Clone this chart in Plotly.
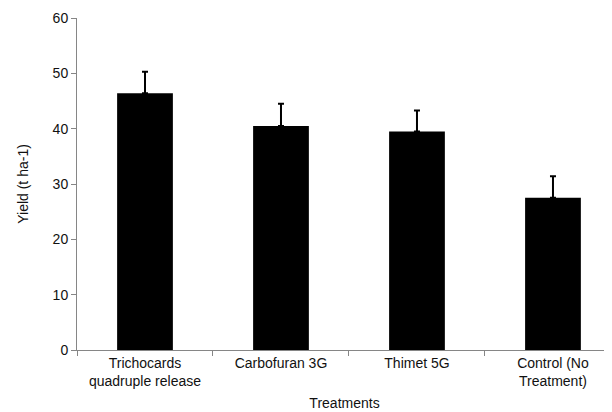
import plotly.graph_objects as go

categories = ["Trichocards<br>quadruple release", "Carbofuran 3G", "Thimet 5G", "Control (No<br>Treatment)"]
yield_values = [46.4, 40.5, 39.5, 27.5]
error_values = [3.9, 4.0, 3.8, 3.9]
y_ticks = [0, 10, 20, 30, 40, 50, 60]

fig = go.Figure()
fig.add_trace(go.Bar(
    x=categories,
    y=yield_values,
    width=0.41,
    marker=dict(color="black", line=dict(width=0)),
    error_y=dict(type="data", array=error_values, arrayminus=[0] * len(error_values),
                 symmetric=False, color="black", thickness=2, width=3),
    showlegend=False,
))

font = "Liberation Sans, Arial, sans-serif"
txt = "#111111"
fig.update_layout(
    width=604, height=404,
    margin=dict(l=69, r=0, t=10, b=62),
    paper_bgcolor="white", plot_bgcolor="white",
    font=dict(family=font, size=14, color=txt),
    xaxis=dict(
        range=[-0.5, 3.434],
        showline=True, linecolor="#868686", linewidth=1,
        ticks="outside", tickson="boundaries", ticklen=5, tickcolor="#868686",
        showgrid=False, zeroline=False,
        tickfont=dict(size=14, family=font, color=txt),
        title=dict(text="Treatments", font=dict(size=14, family=font, color=txt), standoff=10),
    ),
    yaxis=dict(
        range=[0, 60], tickvals=y_ticks,
        showline=True, linecolor="#868686", linewidth=1,
        ticks="outside", ticklen=5, tickcolor="#868686",
        showgrid=False, zeroline=False,
        tickfont=dict(size=14, family=font, color=txt),
        title=dict(text="Yield (t ha-1)", font=dict(size=14, family=font, color=txt), standoff=20),
    ),
)

fig.write_html("out.html")
